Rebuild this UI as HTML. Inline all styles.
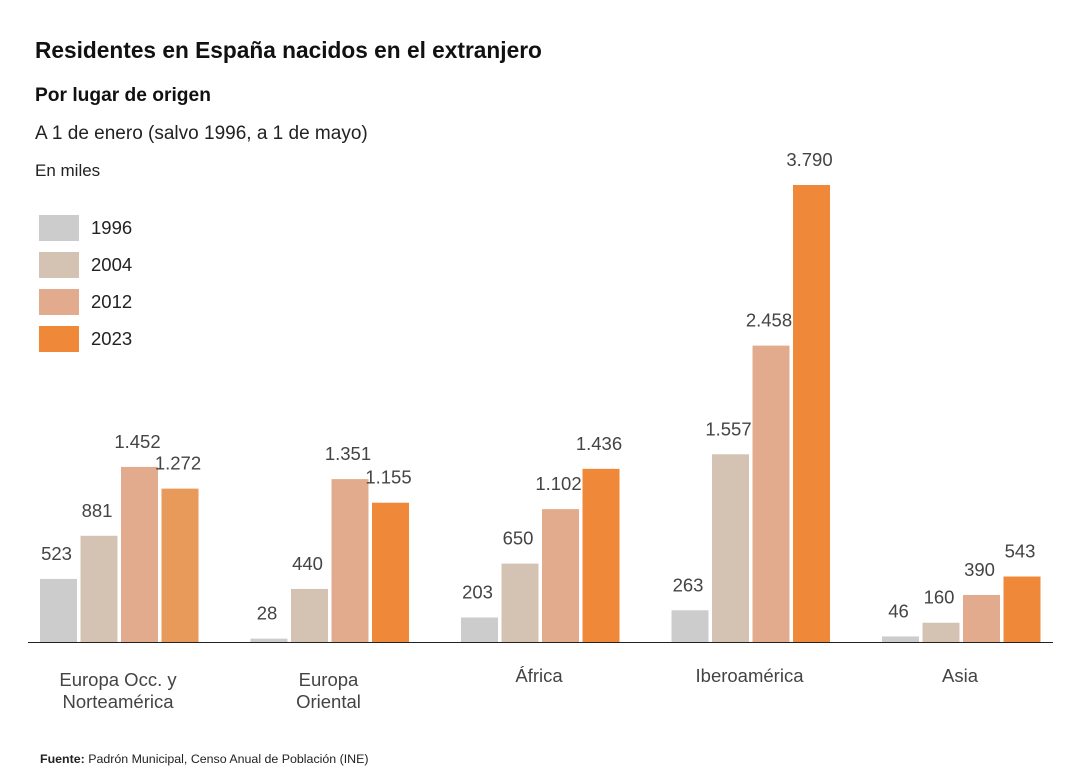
<!DOCTYPE html>
<html><head><meta charset="utf-8">
<style>
body{margin:0;width:1080px;height:768px;background:#fff;font-family:"Liberation Sans",sans-serif;overflow:hidden;position:relative}
.t{position:absolute;white-space:nowrap}
</style></head><body>
<div class="t" style="left:35px;top:37px;font-size:22.7px;font-weight:bold;color:#111">Residentes en España nacidos en el extranjero</div>
<div class="t" style="left:35px;top:85px;font-size:19.2px;font-weight:bold;color:#111">Por lugar de origen</div>
<div class="t" style="left:35px;top:123px;font-size:19px;color:#222">A 1 de enero (salvo 1996, a 1 de mayo)</div>
<div class="t" style="left:35px;top:161px;font-size:17px;color:#222">En miles</div>
<div class="t" style="left:40px;top:752px;font-size:12.4px;color:#222"><b>Fuente:</b> Padrón Municipal, Censo Anual de Población (INE)</div>
<svg id="chart" width="1080" height="768" style="position:absolute;left:0;top:0"></svg>
<script>
const categories=[["Europa Occ. y","Norteamérica"],["Europa","Oriental"],["África"],["Iberoamérica"],["Asia"]];
const years=["1996","2004","2012","2023"];
const v1996=[523,28,203,263,46];
const v2004=[881,440,650,1557,160];
const v2012=[1452,1351,1102,2458,390];
const v2023=[1272,1155,1436,3790,543];
const colors=["#cccccc","#d4c3b3","#e3ab8d","#f0883a"];
const series=[v1996,v2004,v2012,v2023];
const svg=document.getElementById('chart');
const NS="http://www.w3.org/2000/svg";
const base=642, maxV=3790, topY=185;
function y(v){return base-(v/maxV)*(base-topY);}
function gx(i){return 40+i*210.5;}
function fmt(n){return n.toLocaleString('de-DE');}
function mk(t,a){const e=document.createElementNS(NS,t);for(const k in a)e.setAttribute(k,a[k]);svg.appendChild(e);return e;}
years.forEach((yr,i)=>{
 const r=mk('rect',{x:39,y:215+i*37,width:40,height:26,fill:colors[i]});
 
 
 const t=mk('text',{x:91,y:234+i*37,'font-size':18.5,fill:'#222'});t.textContent=yr;
 
 
});
categories.forEach((c,ci)=>{
 series.forEach((s,si)=>{
  const x=gx(ci)+si*40.5, bw=37, v=s[ci];
  let col=colors[si]; if(ci===0&&si===3) col="#e89a5a";
  const r=mk('rect',{x:x,y:y(v),width:bw,height:base-y(v),fill:col});
  
  
  const t=mk('text',{x:x+bw/2-2,y:y(v)-19,'font-size':18.5,fill:'#444','text-anchor':'middle'});t.textContent=fmt(v);
  
  
 });
 const cx=gx(ci)+78;
 c.forEach((line,li)=>{
  const t=mk('text',{x:cx,y:(c.length>1?686:682)+li*22,'font-size':18.5,fill:'#444','text-anchor':'middle'});t.textContent=line;
  
  
 });
});
const ax=mk('line',{x1:28,x2:1053,y1:642.5,y2:642.5,stroke:'#222','stroke-width':1});


</script>
</body></html>
